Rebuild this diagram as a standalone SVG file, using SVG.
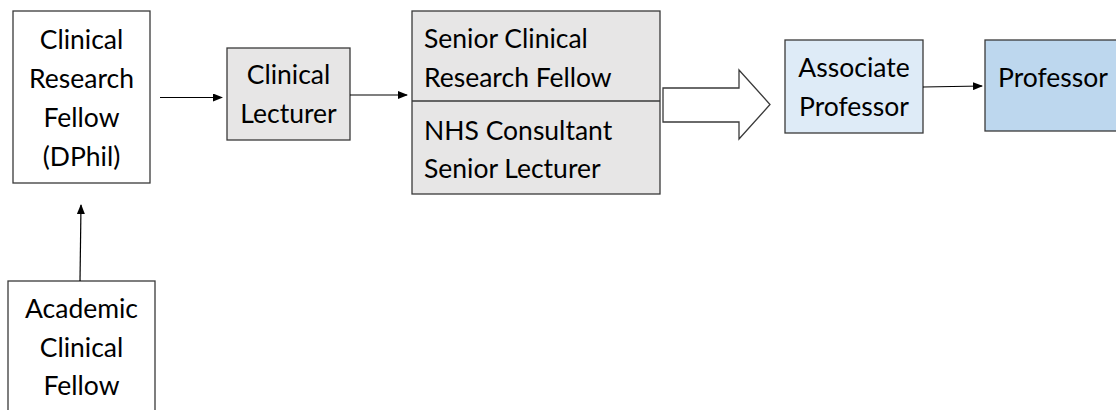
<svg xmlns="http://www.w3.org/2000/svg" width="1116" height="410" viewBox="0 0 1116 410">
<style>
.box{stroke:#3a3a3a;stroke-width:1.3}
.t{font-family:Lato,"Liberation Sans",sans-serif;font-size:26.5px;fill:#000}
.c{text-anchor:middle}
.ln{stroke:#000;stroke-width:1.2;fill:none}
</style>
<defs>
<marker id="ah" markerWidth="10" markerHeight="8" refX="9" refY="4" orient="auto" markerUnits="userSpaceOnUse">
<path d="M0,0 L10,4 L0,8 Z" fill="#000"/>
</marker>
</defs>
<rect width="1116" height="410" fill="#fff"/>
<g id="n-crf">
<rect class="box" x="13" y="11" width="137" height="172" fill="#fff"/>
<text class="t c" x="81.5" y="49">Clinical</text>
<text class="t c" x="81.5" y="88">Research</text>
<text class="t c" x="81.5" y="127">Fellow</text>
<text class="t c" x="81.5" y="166">(DPhil)</text>
</g>
<g id="n-cl">
<rect class="box" x="227" y="48" width="123" height="92" fill="#e7e6e6"/>
<text class="t c" x="288.5" y="84">Clinical</text>
<text class="t c" x="288.5" y="123">Lecturer</text>
</g>
<g id="n-senior">
<rect class="box" x="412" y="11" width="248" height="183" fill="#e7e6e6"/>
<line class="box" x1="412" y1="101" x2="660" y2="101"/>
<text class="t" x="424" y="48">Senior Clinical</text>
<text class="t" x="424" y="87">Research Fellow</text>
<text class="t" x="424" y="140">NHS Consultant</text>
<text class="t" x="424" y="178">Senior Lecturer</text>
</g>
<g id="n-assoc">
<rect class="box" x="785" y="40" width="138" height="93" fill="#deebf7"/>
<text class="t c" x="854" y="77">Associate</text>
<text class="t c" x="854" y="116">Professor</text>
</g>
<g id="n-prof">
<rect class="box" x="985" y="40" width="140" height="91" fill="#bdd7ee"/>
<text class="t" x="998" y="87">Professor</text>
</g>
<g id="n-acf">
<rect class="box" x="8" y="281" width="147" height="140" fill="#fff"/>
<text class="t c" x="81.5" y="318">Academic</text>
<text class="t c" x="81.5" y="357">Clinical</text>
<text class="t c" x="81.5" y="395">Fellow</text>
</g>
<g id="connectors">
<line class="ln" x1="160" y1="97.5" x2="222" y2="97.5" marker-end="url(#ah)"/>
<line class="ln" x1="350" y1="95" x2="407" y2="95" marker-end="url(#ah)"/>
<line class="ln" x1="923" y1="87" x2="982" y2="86" marker-end="url(#ah)"/>
<line class="ln" x1="80" y1="281" x2="81" y2="205" marker-end="url(#ah)"/>
<path d="M663,88 L739,88 L739,70 L770,104.5 L739,139 L739,122 L663,122 Z" fill="#fff" stroke="#3a3a3a" stroke-width="1.3"/>
</g>
</svg>
